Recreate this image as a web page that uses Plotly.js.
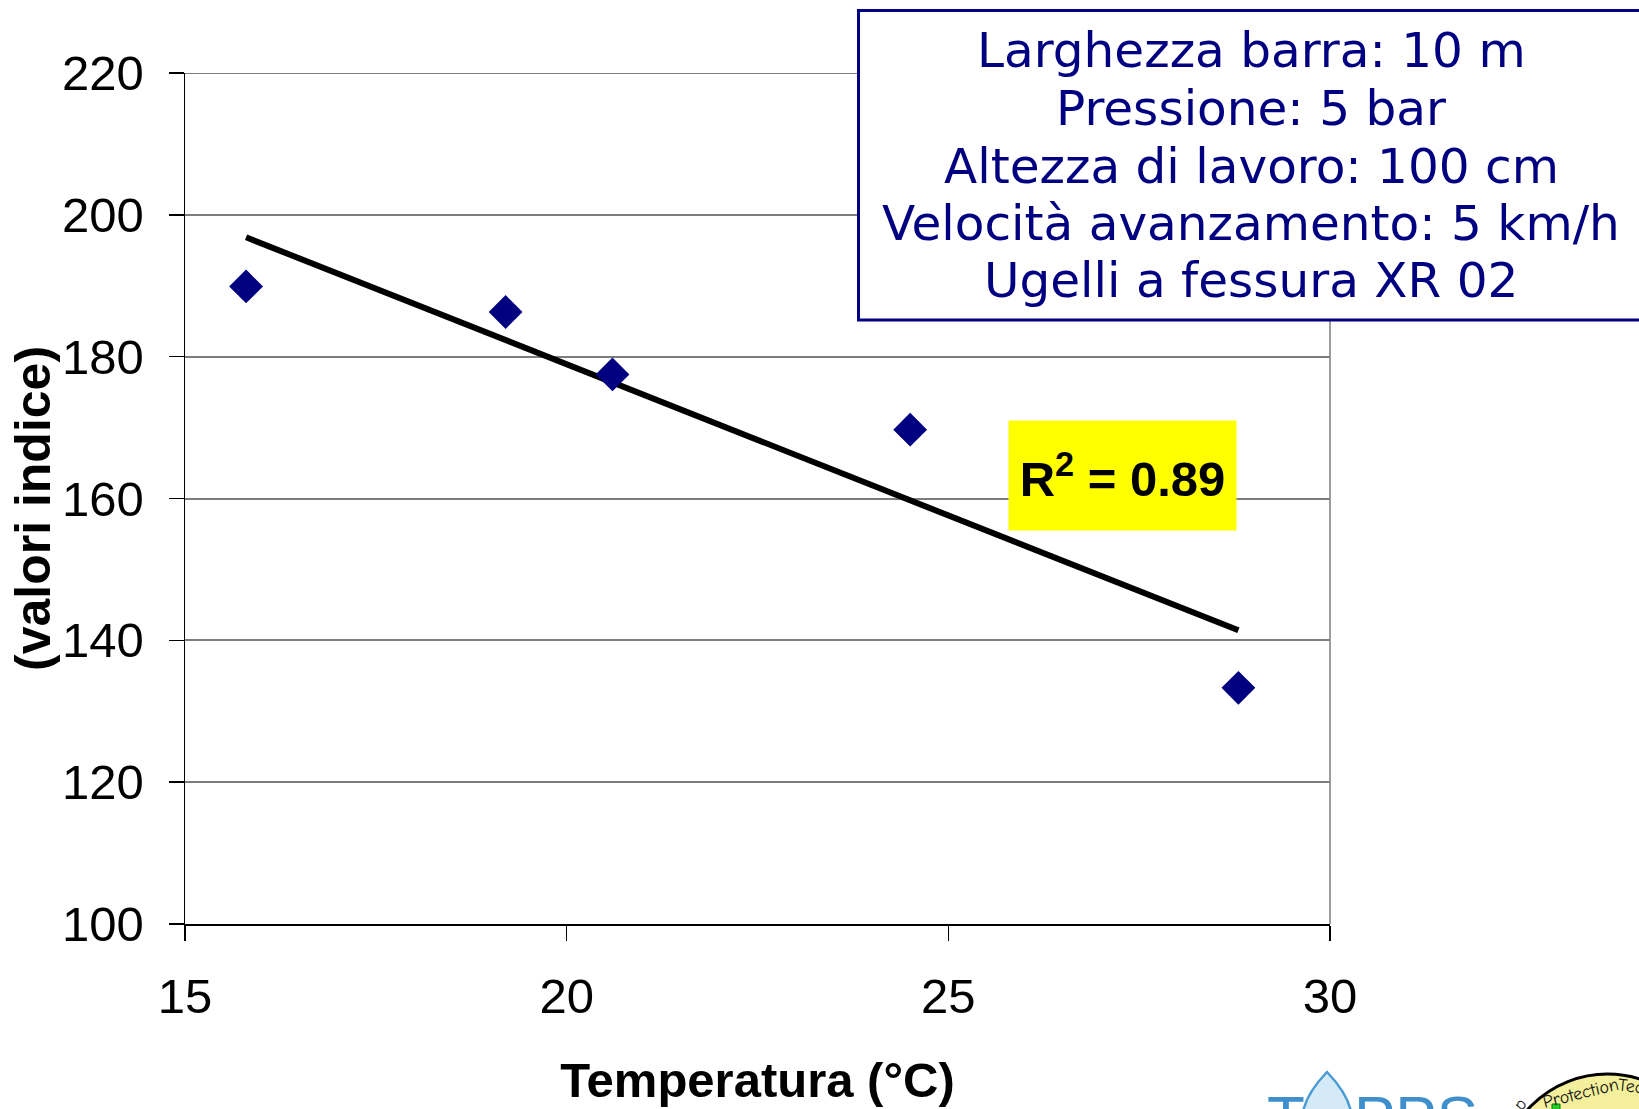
<!DOCTYPE html>
<html>
<head>
<meta charset="utf-8">
<script src="https://cdn.plot.ly/plotly-3.0.1.min.js"></script>
<style>
  html, body { margin: 0; padding: 0; background: #ffffff; }
  #chart { width: 1639px; height: 1109px; }
</style>
</head>
<body>
<div id="chart"></div>
<script>
// ---- data ----
const temperatura = [15.8, 19.2, 20.6, 24.5, 28.8];
const valoriIndice = [189.9, 186.3, 177.5, 169.7, 133.3];
const xTickVals = [15, 20, 25, 30];
const yTickVals = [100, 120, 140, 160, 180, 200, 220];
const infoLines = [
  "Larghezza barra: 10 m",
  "Pressione: 5 bar",
  "Altezza di lavoro: 100 cm",
  "Velocità avanzamento: 5 km/h",
  "Ugelli a fessura XR 02"
];
const xTitle = "Temperatura (°C)";
const yTitle = "(valori indice)";

// ---- linear least-squares trend from the data ----
function linfit(xs, ys) {
  const n = xs.length;
  const mx = xs.reduce((a, b) => a + b, 0) / n;
  const my = ys.reduce((a, b) => a + b, 0) / n;
  let sxy = 0, sxx = 0, syy = 0;
  for (let i = 0; i < n; i++) {
    sxy += (xs[i] - mx) * (ys[i] - my);
    sxx += (xs[i] - mx) ** 2;
    syy += (ys[i] - my) ** 2;
  }
  const slope = sxy / sxx;
  return { slope, intercept: my - slope * mx, r2: (sxy * sxy) / (sxx * syy) };
}
const fit = linfit(temperatura, valoriIndice);
const xMin = Math.min(...temperatura), xMax = Math.max(...temperatura);
const trendX = [xMin, xMax];
const trendY = trendX.map(x => fit.intercept + fit.slope * x);

// ---- layout geometry helpers (pixel -> paper) ----
const M = { l: 185, r: 309, t: 73, b: 185 };
const FW = 1639, FH = 1109;
const PW = FW - M.l - M.r, PH = FH - M.t - M.b;
const px = x => (x - M.l) / PW;
const py = y => (M.t + PH - y) / PH;

const navy = "#000080";
const axisFont = { family: "Liberation Sans, Arial, sans-serif", size: 49, color: "#000000" };
const gridGrey = "#7d7d7d";

const traces = [
  {
    x: trendX, y: trendY, type: "scatter", mode: "lines",
    line: { color: "#000000", width: 6 },
    hoverinfo: "skip", showlegend: false
  },
  {
    x: temperatura, y: valoriIndice, type: "scatter", mode: "markers",
    marker: { symbol: "diamond", size: 26, color: navy, line: { width: 0 } },
    showlegend: false
  }
];

const annotations = [];
// info box text lines
const lineY = [48, 106, 164, 221, 278];
infoLines.forEach((t, i) => {
  annotations.push({
    xref: "paper", yref: "paper", x: px(1251), y: py(lineY[i] + 2),
    xanchor: "center", yanchor: "middle", showarrow: false,
    text: t, font: { family: "DejaVu Sans, Verdana, sans-serif", size: 48.5, color: navy }
  });
});
// R^2 label
annotations.push({
  xref: "paper", yref: "paper", x: px(1122.5), y: py(475.3),
  xanchor: "center", yanchor: "middle", showarrow: false,
  text: "<b>R<sup>2</sup> = " + fit.r2.toFixed(2) + "</b>",
  font: { family: "Liberation Sans, Arial, sans-serif", size: 49, color: "#000000" },
  bgcolor: "#ffff00", width: 227, height: 109, borderpad: 0
});
// y-axis title
annotations.push({
  xref: "paper", yref: "paper", x: px(33), y: py(509),
  xanchor: "center", yanchor: "middle", showarrow: false, textangle: -90,
  text: "<b>" + yTitle + "</b>",
  font: { family: "Liberation Sans, Arial, sans-serif", size: 50, color: "#000000" }
});
// logos (partial, cut at bottom edge)
annotations.push({
  xref: "paper", yref: "paper", x: px(1265), y: py(1117),
  xanchor: "left", yanchor: "middle", showarrow: false,
  text: "T", font: { family: "Liberation Sans, Arial, sans-serif", size: 62, color: "#3f8fcc" }
});
annotations.push({
  xref: "paper", yref: "paper", x: px(1352), y: py(1117),
  xanchor: "left", yanchor: "middle", showarrow: false,
  text: "PPS", font: { family: "Liberation Sans, Arial, sans-serif", size: 62, color: "#3f8fcc" }
});
annotations.push({
  xref: "paper", yref: "paper", x: px(1520), y: py(1104),
  xanchor: "center", yanchor: "middle", showarrow: false, textangle: -50,
  text: "p", font: { family: "Comic Neue, DejaVu Sans, sans-serif", size: 18, color: "#111111" }
});
annotations.push({
  xref: "paper", yref: "paper", x: px(1580), y: py(1093),
  xanchor: "center", yanchor: "middle", showarrow: false, textangle: -14,
  text: "Protection", font: { family: "Comic Neue, DejaVu Sans, sans-serif", size: 18, color: "#111111" }
});
annotations.push({
  xref: "paper", yref: "paper", x: px(1631), y: py(1086),
  xanchor: "center", yanchor: "middle", showarrow: false, textangle: 6,
  text: "Tec", font: { family: "Comic Neue, DejaVu Sans, sans-serif", size: 18, color: "#111111" }
});

const shapes = [
  // right border of the plot area (grey)
  { type: "line", xref: "paper", yref: "paper", x0: 1, x1: 1, y0: 0, y1: 1,
    line: { color: gridGrey, width: 1.5 }, layer: "below" },
  // top grid line at 220 (hidden by plotly at the range edge)
  { type: "line", xref: "paper", yref: "y", x0: 0, x1: 1, y0: 220, y1: 220,
    line: { color: gridGrey, width: 2 }, layer: "below" },
  // info box
  { type: "rect", xref: "paper", yref: "paper",
    x0: px(858.5), x1: px(1660), y0: py(320), y1: py(10.5),
    fillcolor: "#ffffff", line: { color: navy, width: 3 }, layer: "above" },
  // drop of the logo
  { type: "path", xref: "paper", yref: "paper",
    path: "M " + px(1327) + "," + py(1072) +
          " Q " + px(1300) + "," + py(1100) + " " + px(1302) + "," + py(1125) +
          " L " + px(1352) + "," + py(1125) +
          " Q " + px(1354) + "," + py(1100) + " " + px(1327) + "," + py(1072) + " Z",
    fillcolor: "#d5eaf7", line: { color: "#4a9ad4", width: 2.5 }, layer: "above" },
  // round logo
  { type: "circle", xref: "paper", yref: "paper",
    x0: px(1500), x1: px(1715), y0: py(1289), y1: py(1074),
    fillcolor: "#f3ef9c", line: { color: "#000000", width: 3 }, layer: "above" },
  { type: "rect", xref: "paper", yref: "paper",
    x0: px(1552), x1: px(1560), y0: py(1120), y1: py(1104),
    fillcolor: "#22cc22", line: { color: "#117711", width: 1 }, layer: "above" },
  { type: "rect", xref: "paper", yref: "paper",
    x0: px(1585), x1: px(1597), y0: py(1120), y1: py(1110),
    fillcolor: "#33dddd", line: { color: "#117777", width: 1 }, layer: "above" }
];

const layout = {
  width: FW, height: FH,
  margin: M,
  paper_bgcolor: "#ffffff", plot_bgcolor: "#ffffff",
  showlegend: false,
  font: axisFont,
  xaxis: {
    range: [15, 30], tickvals: xTickVals, ticktext: xTickVals.map(String),
    showgrid: false, zeroline: false,
    showline: true, linecolor: "#000000", linewidth: 1.5,
    ticks: "outside", ticklen: 15, tickwidth: 1.5, tickcolor: "#000000",
    tickfont: axisFont, ticklabelstandoff: 14,
    title: { text: "<b>" + xTitle + "</b>", font: axisFont, standoff: 40 }
  },
  yaxis: {
    range: [100, 220], tickvals: yTickVals, ticktext: yTickVals.map(String),
    showgrid: true, gridcolor: gridGrey, gridwidth: 2,
    zeroline: false,
    showline: true, linecolor: "#000000", linewidth: 1.5,
    ticks: "outside", ticklen: 15, tickwidth: 1.5, tickcolor: "#000000",
    tickfont: axisFont, ticklabelstandoff: 15
  },
  annotations: annotations,
  shapes: shapes
};

Plotly.newPlot("chart", traces, layout, { displayModeBar: false, staticPlot: true });
</script>
</body>
</html>
